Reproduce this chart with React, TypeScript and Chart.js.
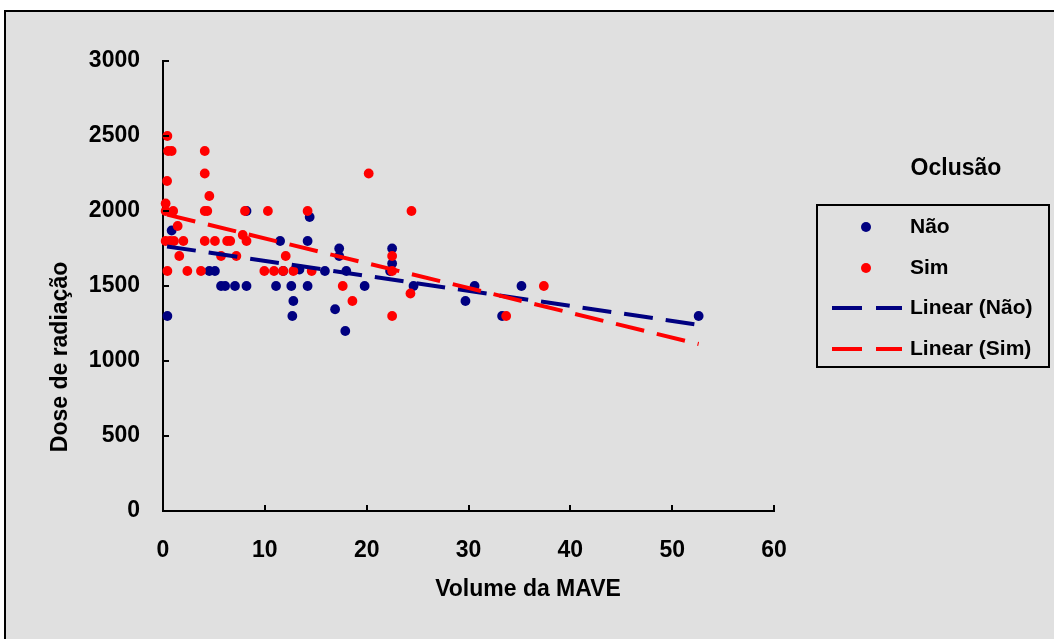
import React, { useEffect, useRef } from "react";
import { Chart, registerables } from "chart.js";

Chart.register(...registerables);

// ---- Data ----
const naoX = [0.85, 0.43, 4.55, 5.1, 5.7, 6.1, 7.07, 8.2, 8.2, 11.5, 11.1, 11.8, 12.6, 12.7, 12.8, 13.4, 14.2, 14.4, 14.2, 15.9, 16.9, 17.3, 17.3, 17.9, 18.0, 19.8, 22.5, 22.5, 22.3, 24.6, 29.7, 30.6, 33.3, 35.2, 52.6];
const naoY = [1870, 1300, 1600, 1600, 1500, 1500, 1500, 1500, 2000, 1800, 1500, 1600, 1500, 1300, 1400, 1610, 1800, 1960, 1500, 1600, 1345, 1750, 1700, 1200, 1600, 1500, 1750, 1650, 1600, 1500, 1400, 1500, 1300, 1500, 1300];

const simX = [0.43, 0.5, 0.85, 4.1, 0.4, 4.1, 4.55, 0.26, 0.26, 1.0, 4.1, 4.35, 8.05, 10.3, 1.44, 0.26, 0.69, 1.08, 2.0, 4.1, 5.1, 6.3, 6.6, 7.83, 8.2, 1.6, 5.7, 7.2, 12.05, 0.43, 2.39, 3.73, 9.95, 10.9, 11.8, 12.8, 14.6, 14.2, 17.65, 18.6, 20.2, 24.4, 22.5, 22.5, 22.5, 24.3, 33.7, 37.4];
const simY = [2500, 2400, 2400, 2400, 2200, 2250, 2100, 2050, 2000, 2000, 2000, 2000, 2000, 2000, 1900, 1800, 1800, 1800, 1800, 1800, 1800, 1800, 1800, 1840, 1800, 1700, 1700, 1700, 1700, 1600, 1600, 1600, 1600, 1600, 1600, 1600, 1600, 2000, 1500, 1400, 2250, 2000, 1700, 1600, 1300, 1450, 1300, 1500];

const trendX = [0.4, 52.6];
const naoTrendY = [1764, 1241];
const simTrendY = [1976, 1113];

const xTickValues = [0, 10, 20, 30, 40, 50, 60];
const xTickLabels = ["0", "10", "20", "30", "40", "50", "60"];
const yTickValues = [0, 500, 1000, 1500, 2000, 2500, 3000];
const yTickLabels = ["0", "500", "1000", "1500", "2000", "2500", "3000"];

const seriesNames = ["Não", "Sim", "Linear (Não)", "Linear (Sim)"];
const legendTitle = "Oclusão";
const xTitle = "Volume da MAVE";
const yTitle = "Dose de radiação";

const NAVY = "#000080";
const RED = "#ff0000";
const BG = "#e0e0e0";
const FONT = "'Liberation Sans', Arial, sans-serif";

const toPts = (xs: number[], ys: number[]) => xs.map((x, i) => ({ x, y: ys[i] }));

const decoPlugin = {
  id: "deco",
  beforeDraw(chart: any) {
    const ctx = chart.ctx;
    ctx.save();
    ctx.fillStyle = "#ffffff";
    ctx.fillRect(0, 0, chart.width, chart.height);
    ctx.fillStyle = BG;
    ctx.fillRect(5, 11, chart.width, chart.height);
    ctx.strokeStyle = "#000";
    ctx.lineWidth = 2;
    ctx.beginPath();
    ctx.moveTo(5, chart.height);
    ctx.lineTo(5, 11);
    ctx.lineTo(chart.width, 11);
    ctx.stroke();
    ctx.restore();
  },
  afterDraw(chart: any) {
    const ctx = chart.ctx;
    const xs = chart.scales.x;
    const ys = chart.scales.y;
    const { left, bottom } = chart.chartArea;
    ctx.save();
    // inward tick marks
    ctx.strokeStyle = "#000";
    ctx.lineWidth = 2;
    ctx.beginPath();
    ys.ticks.forEach((t: any) => {
      const py = Math.round(ys.getPixelForValue(t.value));
      ctx.moveTo(left, py);
      ctx.lineTo(left + 6, py);
    });
    xs.ticks.forEach((t: any) => {
      const px = Math.round(xs.getPixelForValue(t.value));
      ctx.moveTo(px, bottom);
      ctx.lineTo(px, bottom - 6);
    });
    ctx.stroke();

    // axis titles
    ctx.fillStyle = "#000";
    ctx.font = `bold 23px ${FONT}`;
    ctx.textAlign = "center";
    ctx.textBaseline = "middle";
    ctx.fillText(xTitle, 528, 590);
    ctx.save();
    ctx.translate(61, 357);
    ctx.rotate(-Math.PI / 2);
    ctx.fillText(yTitle, 0, 0);
    ctx.restore();

    // legend
    ctx.fillText(legendTitle, 956, 169);
    ctx.lineWidth = 2;
    ctx.strokeStyle = "#000";
    ctx.strokeRect(817, 205, 232, 162);
    const rows = [227, 268, 308, 349];
    ctx.font = `bold 21px ${FONT}`;
    ctx.textAlign = "left";
    seriesNames.forEach((name, i) => {
      ctx.fillStyle = "#000";
      ctx.fillText(name, 910, rows[i]);
    });
    [NAVY, RED].forEach((c, i) => {
      ctx.fillStyle = c;
      ctx.beginPath();
      ctx.arc(866, rows[i], 5, 0, Math.PI * 2);
      ctx.fill();
    });
    [NAVY, RED].forEach((c, i) => {
      ctx.strokeStyle = c;
      ctx.lineWidth = 4;
      ctx.setLineDash([30, 14]);
      ctx.beginPath();
      ctx.moveTo(832, rows[i + 2]);
      ctx.lineTo(902, rows[i + 2]);
      ctx.stroke();
    });
    ctx.restore();
  },
};

export default function App() {
  const ref = useRef<HTMLCanvasElement | null>(null);
  useEffect(() => {
    if (!ref.current) return;
    const tickFont = { family: FONT, size: 23, weight: "bold" as const };
    const chart = new Chart(ref.current, {
      type: "scatter",
      data: {
        datasets: [
          {
            label: seriesNames[0],
            data: toPts(naoX, naoY),
            backgroundColor: NAVY,
            borderColor: NAVY,
            pointRadius: 4.9,
            pointBorderWidth: 0,
            order: 4,
            clip: false,
          } as any,
          {
            label: seriesNames[1],
            data: toPts(simX, simY),
            backgroundColor: RED,
            borderColor: RED,
            pointRadius: 4.9,
            pointBorderWidth: 0,
            order: 3,
            clip: false,
          } as any,
          {
            label: seriesNames[2],
            data: toPts(trendX, naoTrendY),
            showLine: true,
            borderColor: NAVY,
            borderWidth: 4,
            borderDash: [29, 13],
            pointRadius: 0,
            order: 2,
          } as any,
          {
            label: seriesNames[3],
            data: toPts(trendX, simTrendY),
            showLine: true,
            borderColor: RED,
            borderWidth: 4,
            borderDash: [29, 13],
            pointRadius: 0,
            order: 1,
          } as any,
        ],
      },
      options: {
        responsive: false,
        animation: false,
        layout: { padding: { left: 0, top: 61, right: 280, bottom: 0 } },
        plugins: { legend: { display: false }, tooltip: { enabled: false } },
        scales: {
          x: {
            type: "linear",
            min: 0,
            max: 60,
            z: 1,
            afterBuildTicks: (s: any) => {
              s.ticks = xTickValues.map((v) => ({ value: v }));
            },
            afterFit: (s: any) => {
              s.height = 128;
            },
            grid: { display: false, drawTicks: false },
            border: { display: true, color: "#000", width: 2 },
            ticks: {
              color: "#000",
              font: tickFont,
              padding: 26,
              maxRotation: 0,
              callback: (v: any) => xTickLabels[xTickValues.indexOf(Number(v))] ?? String(v),
            },
          },
          y: {
            type: "linear",
            min: 0,
            max: 3000,
            z: 1,
            afterBuildTicks: (s: any) => {
              s.ticks = yTickValues.map((v) => ({ value: v }));
            },
            afterFit: (s: any) => {
              s.width = 163;
            },
            grid: { display: false, drawTicks: false },
            border: { display: true, color: "#000", width: 2 },
            ticks: {
              color: "#000",
              font: tickFont,
              padding: 23,
              callback: (v: any) => yTickLabels[yTickValues.indexOf(Number(v))] ?? String(v),
            },
          },
        },
      } as any,
      plugins: [decoPlugin],
    });
    return () => chart.destroy();
  }, []);
  return (
    <div style={{ position: "fixed", left: 0, top: 0, width: 1054, height: 639 }}>
      <canvas ref={ref} width={1054} height={639} style={{ display: "block" }} />
    </div>
  );
}
